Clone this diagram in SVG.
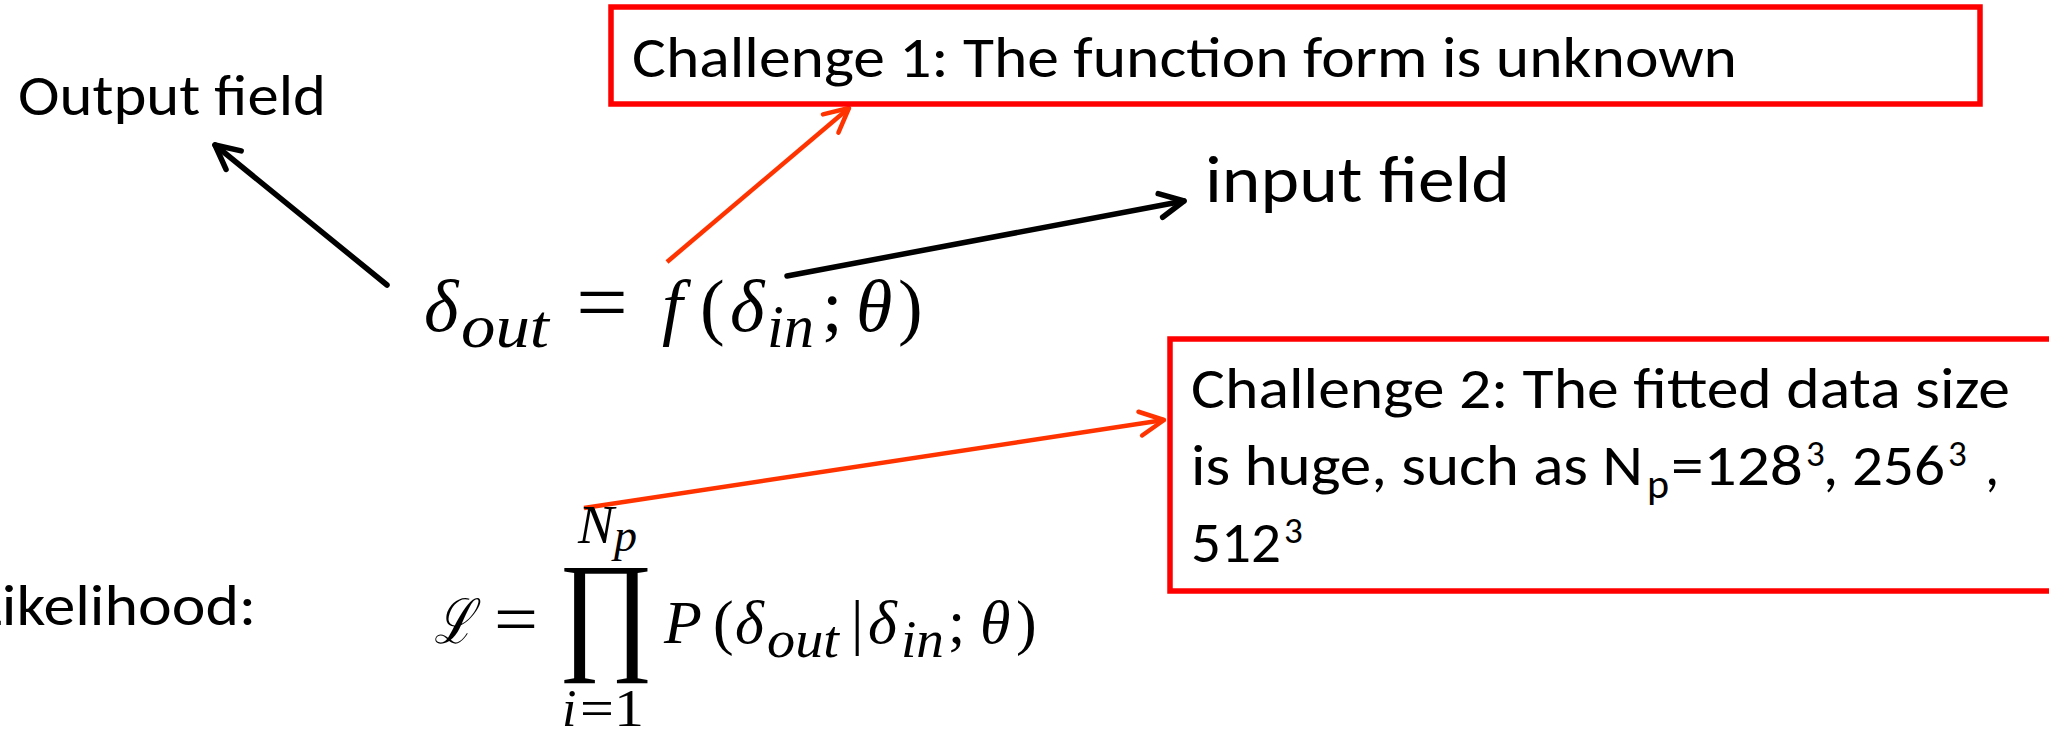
<svg xmlns="http://www.w3.org/2000/svg" width="2049" height="735" viewBox="0 0 2049 735">
<style>
.lbl{font-family:Carlito,Lato,"Liberation Sans",sans-serif;fill:#000}
.m{font-family:"Liberation Serif","DejaVu Serif",serif;fill:#000}
.i{font-style:italic}
.box{fill:none;stroke:#FF0000;stroke-width:5.5}
.blk{stroke:#000;stroke-width:5.5;fill:none;stroke-linecap:round}
.red{stroke:#FF3300;stroke-width:4.5;fill:none}
</style>
<defs>
<marker id="ah-b" markerUnits="userSpaceOnUse" markerWidth="40" markerHeight="40" viewBox="-30 -20 40 40" refX="0" refY="0" orient="auto">
<path d="M-24,-12 L0,0 L-24,12" fill="none" stroke="#000" stroke-width="5.5" stroke-linecap="round" stroke-linejoin="round"/>
</marker>
<marker id="ah-r" markerUnits="userSpaceOnUse" markerWidth="40" markerHeight="40" viewBox="-30 -20 40 40" refX="0" refY="0" orient="auto">
<path d="M-24,-12 L0,0 L-24,12" fill="none" stroke="#FF3300" stroke-width="4.5" stroke-linecap="round" stroke-linejoin="round"/>
</marker>
</defs>
<rect width="2049" height="735" fill="#fff"/>

<g id="connectors">
<line class="blk" x1="387" y1="285" x2="215" y2="145" marker-end="url(#ah-b)"/>
<line class="blk" x1="787" y1="276" x2="1184" y2="201" marker-end="url(#ah-b)"/>
<line class="red" x1="667" y1="262" x2="849" y2="108" marker-end="url(#ah-r)"/>
<line class="red" x1="584" y1="508" x2="1164" y2="420" marker-end="url(#ah-r)"/>
</g>

<g id="output-field">
<text class="lbl" x="18" y="115" font-size="57" textLength="308" lengthAdjust="spacingAndGlyphs">Output field</text>
</g>

<g id="input-field">
<text class="lbl" x="1205" y="202" font-size="65" textLength="305" lengthAdjust="spacingAndGlyphs">input field</text>
</g>

<g id="challenge1">
<rect class="box" x="611" y="7" width="1369" height="97"/>
<text class="lbl" x="632" y="77" font-size="57" textLength="1105" lengthAdjust="spacingAndGlyphs">Challenge 1: The function form is unknown</text>
</g>

<g id="challenge2">
<rect class="box" x="1170" y="339" width="900" height="252"/>
<text class="lbl" x="1191" y="408" font-size="57" textLength="819" lengthAdjust="spacingAndGlyphs">Challenge 2: The fitted data size</text>
<text class="lbl" x="1191" y="485" font-size="57" textLength="452" lengthAdjust="spacingAndGlyphs">is huge, such as N</text>
<text class="lbl" x="1647" y="498" font-size="42">p</text>
<text class="lbl" x="1671" y="485" font-size="57" textLength="132" lengthAdjust="spacingAndGlyphs">=128</text>
<text class="lbl" x="1806" y="466" font-size="37">3</text>
<text class="lbl" x="1823" y="485" font-size="57" textLength="122" lengthAdjust="spacingAndGlyphs">, 256</text>
<text class="lbl" x="1948" y="466" font-size="37">3</text>
<text class="lbl" x="1985" y="485" font-size="57">,</text>
<text class="lbl" x="1191" y="562" font-size="57" textLength="90" lengthAdjust="spacingAndGlyphs">512</text>
<text class="lbl" x="1284" y="543" font-size="37">3</text>
</g>

<g id="likelihood-label">
<text class="lbl" x="-25" y="625" font-size="57" textLength="281" lengthAdjust="spacingAndGlyphs">Likelihood:</text>
</g>

<g id="equation1" class="m" font-size="74">
<text class="m i" x="424" y="331">δ</text>
<text class="m i" x="461" y="347" font-size="62" textLength="88" lengthAdjust="spacingAndGlyphs">out</text>
<text class="m" x="576" y="331" font-size="84" textLength="52" lengthAdjust="spacingAndGlyphs">=</text>
<text class="m i" x="662" y="331">f</text>
<text class="m" x="700" y="331">(</text>
<text class="m i" x="730" y="331">δ</text>
<text class="m i" x="767" y="347" font-size="62" textLength="47" lengthAdjust="spacingAndGlyphs">in</text>
<text class="m" x="822" y="331">;</text>
<text class="m i" x="856" y="331">θ</text>
<text class="m" x="898" y="331">)</text>
</g>

<g id="equation2" class="m" font-size="62">
<text class="m i" x="434" y="643" textLength="40" lengthAdjust="spacingAndGlyphs">ℒ</text>
<text class="m" x="494" y="643" font-size="70" textLength="44" lengthAdjust="spacingAndGlyphs">=</text>
<text class="m" x="558" y="655" font-size="133" textLength="96" lengthAdjust="spacingAndGlyphs">∏</text>
<text class="m i" x="578" y="543" font-size="54">N</text>
<text class="m i" x="614" y="551" font-size="46">p</text>
<text class="m i" x="562" y="726" font-size="52">i</text>
<text class="m" x="580" y="726" font-size="52" textLength="64" lengthAdjust="spacingAndGlyphs">=1</text>
<text class="m i" x="664" y="643">P</text>
<text class="m" x="713" y="643">(</text>
<text class="m i" x="735" y="643">δ</text>
<text class="m i" x="767" y="657" font-size="52" textLength="72" lengthAdjust="spacingAndGlyphs">out</text>
<text class="m" x="851" y="643">|</text>
<text class="m i" x="868" y="643">δ</text>
<text class="m i" x="901" y="657" font-size="52" textLength="43" lengthAdjust="spacingAndGlyphs">in</text>
<text class="m" x="948" y="643">;</text>
<text class="m i" x="980" y="643">θ</text>
<text class="m" x="1016" y="643">)</text>
</g>
</svg>
